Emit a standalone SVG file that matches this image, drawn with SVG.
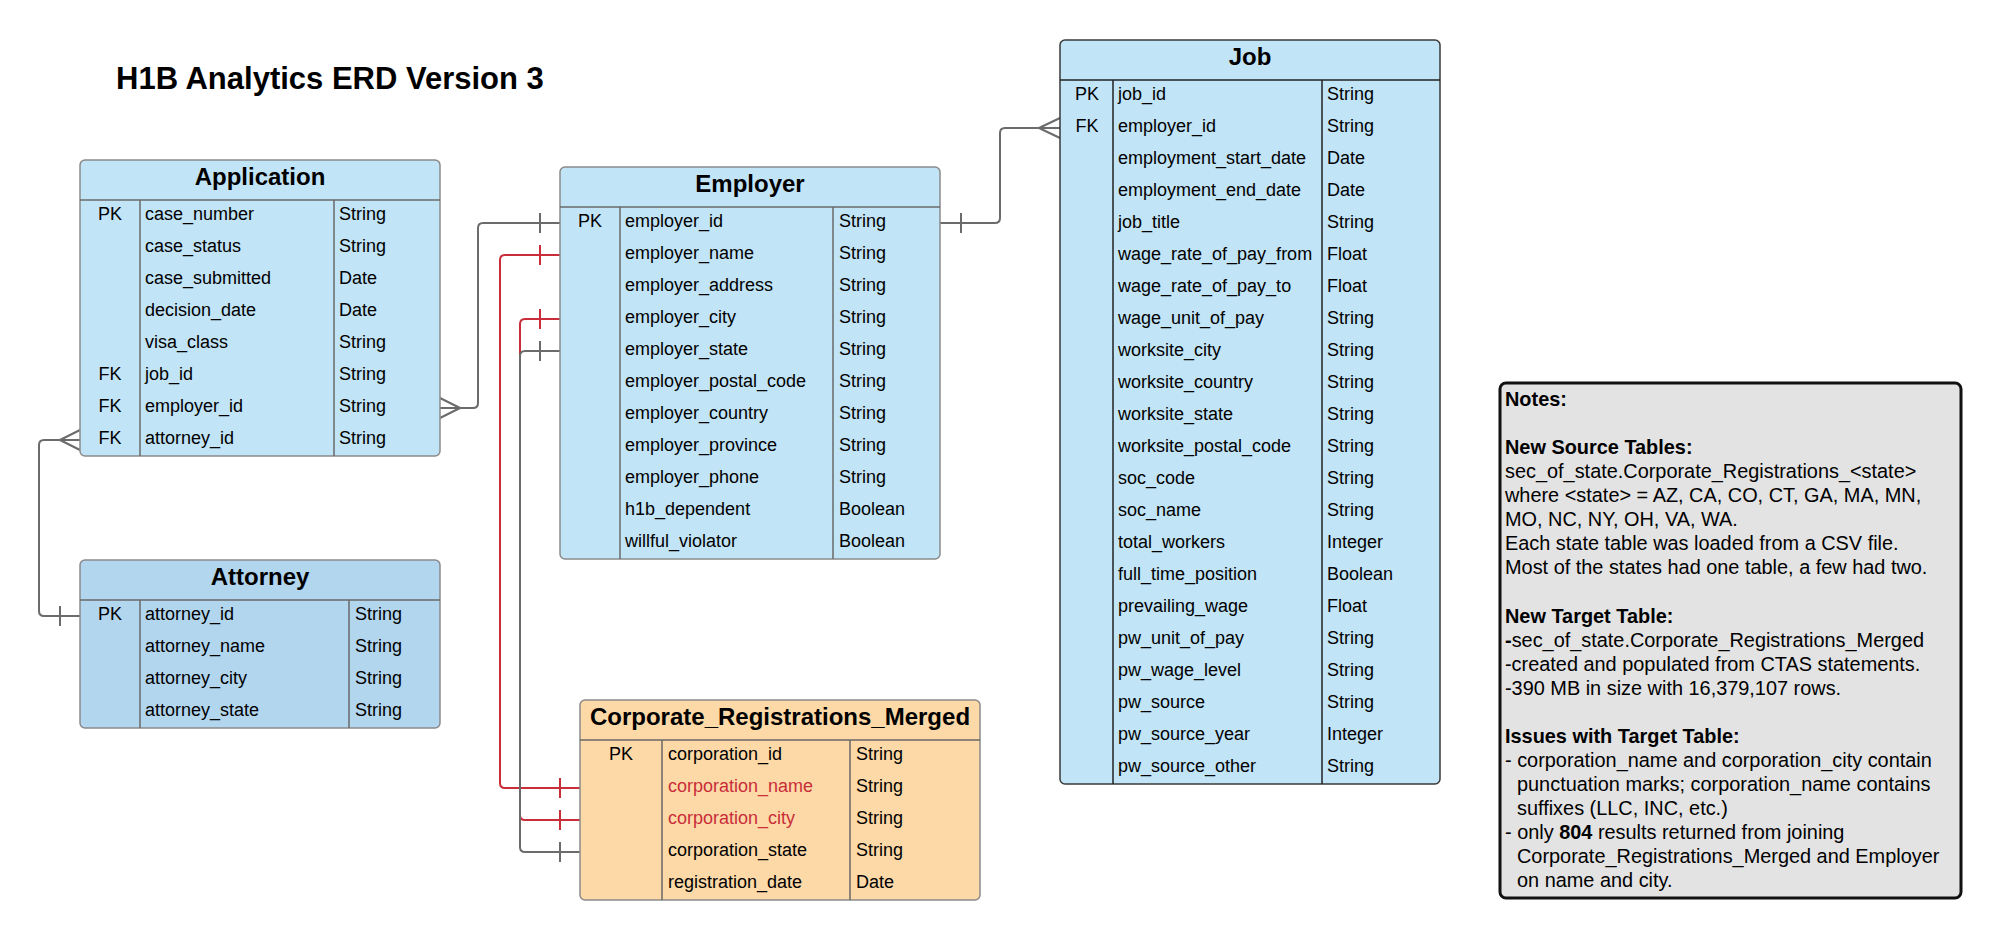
<svg xmlns="http://www.w3.org/2000/svg" width="2001" height="940" viewBox="0 0 2001 940">
<style>
text{font-family:"Liberation Sans",Arial,Helvetica,sans-serif;fill:#000}
.f{font-size:18px}
.k{font-size:18px;text-anchor:middle}
.t{font-size:24px;font-weight:bold;text-anchor:middle}
.red{fill:#c92d39}
.box{stroke:#8a8a8a;stroke-width:1.5}
.blue{fill:#c2e4f7}
.blue2{fill:#b3d6ef}
.orange{fill:#fdd9a7}
.div{stroke:#6a6a6a;stroke-width:1.5;fill:none}
.jdiv{stroke:#222;stroke-width:1.5;fill:none}
.c{fill:none;stroke:#6b6b6b;stroke-width:2;stroke-linejoin:round}
.cr{fill:none;stroke:#c92d39;stroke-width:2;stroke-linejoin:round}
.n{font-size:19.9px}
.nb{font-size:19.9px;font-weight:bold}
</style>

<text x="116" y="89" style="font-size:31px;font-weight:bold">H1B Analytics ERD Version 3</text>

<g id="connectors">
  <!-- Application -> Employer -->
  <path class="c" d="M440,408 H473 Q478,408 478,403 V228 Q478,223 483,223 H560"/>
  <path class="c" d="M440,398 L460,408 L440,418"/>
  <path class="c" d="M540,213 V233"/>
  <!-- Application -> Attorney -->
  <path class="c" d="M80,440 H44 Q39,440 39,445 V611 Q39,616 44,616 H80"/>
  <path class="c" d="M80,430 L60,440 L80,450"/>
  <path class="c" d="M60,606 V626"/>
  <!-- Employer -> Job -->
  <path class="c" d="M940,223 H995 Q1000,223 1000,218 V133 Q1000,128 1005,128 H1060"/>
  <path class="c" d="M1060,118 L1039,128 L1060,138"/>
  <path class="c" d="M961,213 V233"/>
  <!-- Employer name -> corporation_name -->
  <path class="cr" d="M560,255 H505 Q500,255 500,260 V783 Q500,788 505,788 H580"/>
  <path class="cr" d="M540,245 V265 M560,778 V798"/>
  <!-- Employer city -> corporation_city -->
  <path class="cr" d="M560,319 H525 Q520,319 520,324 V815 Q520,820 525,820 H580"/>
  <path class="cr" d="M540,309 V329 M560,810 V830"/>
  <!-- Employer state -> corporation_state -->
  <path class="c" d="M560,351 H525 Q520,351 520,356 V847 Q520,852 525,852 H580"/>
  <path class="c" d="M540,341 V361 M560,842 V862"/>
</g>

<g id="application">
  <rect class="box blue" x="80" y="160" width="360" height="296" rx="5"/>
  <path class="div" d="M80,200 H440 M140,200 V456 M334,200 V456"/>
  <text class="t" x="260" y="185">Application</text>
  <text class="k" x="110" y="220">PK</text>
  <text class="k" x="110" y="380">FK</text>
  <text class="k" x="110" y="412">FK</text>
  <text class="k" x="110" y="444">FK</text>
  <text class="f" x="145" y="220">case_number</text>
  <text class="f" x="145" y="252">case_status</text>
  <text class="f" x="145" y="284">case_submitted</text>
  <text class="f" x="145" y="316">decision_date</text>
  <text class="f" x="145" y="348">visa_class</text>
  <text class="f" x="145" y="380">job_id</text>
  <text class="f" x="145" y="412">employer_id</text>
  <text class="f" x="145" y="444">attorney_id</text>
  <text class="f" x="339" y="220">String</text>
  <text class="f" x="339" y="252">String</text>
  <text class="f" x="339" y="284">Date</text>
  <text class="f" x="339" y="316">Date</text>
  <text class="f" x="339" y="348">String</text>
  <text class="f" x="339" y="380">String</text>
  <text class="f" x="339" y="412">String</text>
  <text class="f" x="339" y="444">String</text>
</g>

<g id="attorney">
  <rect class="box blue2" x="80" y="560" width="360" height="168" rx="5"/>
  <path class="div" d="M80,600 H440 M140,600 V728 M349,600 V728"/>
  <text class="t" x="260" y="585">Attorney</text>
  <text class="k" x="110" y="620">PK</text>
  <text class="f" x="145" y="620">attorney_id</text>
  <text class="f" x="145" y="652">attorney_name</text>
  <text class="f" x="145" y="684">attorney_city</text>
  <text class="f" x="145" y="716">attorney_state</text>
  <text class="f" x="355" y="620">String</text>
  <text class="f" x="355" y="652">String</text>
  <text class="f" x="355" y="684">String</text>
  <text class="f" x="355" y="716">String</text>
</g>

<g id="employer">
  <rect class="box blue" x="560" y="167" width="380" height="392" rx="5"/>
  <path class="div" d="M560,207 H940 M620,207 V559 M833,207 V559"/>
  <text class="t" x="750" y="192">Employer</text>
  <text class="k" x="590" y="227">PK</text>
  <text class="f" x="625" y="227">employer_id</text>
  <text class="f" x="625" y="259">employer_name</text>
  <text class="f" x="625" y="291">employer_address</text>
  <text class="f" x="625" y="323">employer_city</text>
  <text class="f" x="625" y="355">employer_state</text>
  <text class="f" x="625" y="387">employer_postal_code</text>
  <text class="f" x="625" y="419">employer_country</text>
  <text class="f" x="625" y="451">employer_province</text>
  <text class="f" x="625" y="483">employer_phone</text>
  <text class="f" x="625" y="515">h1b_dependent</text>
  <text class="f" x="625" y="547">willful_violator</text>
  <text class="f" x="839" y="227">String</text>
  <text class="f" x="839" y="259">String</text>
  <text class="f" x="839" y="291">String</text>
  <text class="f" x="839" y="323">String</text>
  <text class="f" x="839" y="355">String</text>
  <text class="f" x="839" y="387">String</text>
  <text class="f" x="839" y="419">String</text>
  <text class="f" x="839" y="451">String</text>
  <text class="f" x="839" y="483">String</text>
  <text class="f" x="839" y="515">Boolean</text>
  <text class="f" x="839" y="547">Boolean</text>
</g>

<g id="corporate_registrations_merged">
  <rect class="box orange" x="580" y="700" width="400" height="200" rx="5"/>
  <path class="div" d="M580,740 H980 M662,740 V900 M850,740 V900"/>
  <text class="t" x="780" y="725">Corporate_Registrations_Merged</text>
  <text class="k" x="621" y="760">PK</text>
  <text class="f" x="668" y="760">corporation_id</text>
  <text class="f red" x="668" y="792">corporation_name</text>
  <text class="f red" x="668" y="824">corporation_city</text>
  <text class="f" x="668" y="856">corporation_state</text>
  <text class="f" x="668" y="888">registration_date</text>
  <text class="f" x="856" y="760">String</text>
  <text class="f" x="856" y="792">String</text>
  <text class="f" x="856" y="824">String</text>
  <text class="f" x="856" y="856">String</text>
  <text class="f" x="856" y="888">Date</text>
</g>

<g id="job">
  <rect class="blue" x="1060" y="40" width="380" height="744" rx="5" stroke="#3a3a3a" stroke-width="1.5"/>
  <path class="jdiv" d="M1060,80 H1440 M1113,80 V784 M1322,80 V784"/>
  <text class="t" x="1250" y="65">Job</text>
  <text class="k" x="1087" y="100">PK</text>
  <text class="k" x="1087" y="132">FK</text>
  <text class="f" x="1118" y="100">job_id</text>
  <text class="f" x="1118" y="132">employer_id</text>
  <text class="f" x="1118" y="164">employment_start_date</text>
  <text class="f" x="1118" y="196">employment_end_date</text>
  <text class="f" x="1118" y="228">job_title</text>
  <text class="f" x="1118" y="260">wage_rate_of_pay_from</text>
  <text class="f" x="1118" y="292">wage_rate_of_pay_to</text>
  <text class="f" x="1118" y="324">wage_unit_of_pay</text>
  <text class="f" x="1118" y="356">worksite_city</text>
  <text class="f" x="1118" y="388">worksite_country</text>
  <text class="f" x="1118" y="420">worksite_state</text>
  <text class="f" x="1118" y="452">worksite_postal_code</text>
  <text class="f" x="1118" y="484">soc_code</text>
  <text class="f" x="1118" y="516">soc_name</text>
  <text class="f" x="1118" y="548">total_workers</text>
  <text class="f" x="1118" y="580">full_time_position</text>
  <text class="f" x="1118" y="612">prevailing_wage</text>
  <text class="f" x="1118" y="644">pw_unit_of_pay</text>
  <text class="f" x="1118" y="676">pw_wage_level</text>
  <text class="f" x="1118" y="708">pw_source</text>
  <text class="f" x="1118" y="740">pw_source_year</text>
  <text class="f" x="1118" y="772">pw_source_other</text>
  <text class="f" x="1327" y="100">String</text>
  <text class="f" x="1327" y="132">String</text>
  <text class="f" x="1327" y="164">Date</text>
  <text class="f" x="1327" y="196">Date</text>
  <text class="f" x="1327" y="228">String</text>
  <text class="f" x="1327" y="260">Float</text>
  <text class="f" x="1327" y="292">Float</text>
  <text class="f" x="1327" y="324">String</text>
  <text class="f" x="1327" y="356">String</text>
  <text class="f" x="1327" y="388">String</text>
  <text class="f" x="1327" y="420">String</text>
  <text class="f" x="1327" y="452">String</text>
  <text class="f" x="1327" y="484">String</text>
  <text class="f" x="1327" y="516">String</text>
  <text class="f" x="1327" y="548">Integer</text>
  <text class="f" x="1327" y="580">Boolean</text>
  <text class="f" x="1327" y="612">Float</text>
  <text class="f" x="1327" y="644">String</text>
  <text class="f" x="1327" y="676">String</text>
  <text class="f" x="1327" y="708">String</text>
  <text class="f" x="1327" y="740">Integer</text>
  <text class="f" x="1327" y="772">String</text>
</g>

<g id="notes">
  <rect x="1500" y="383" width="461" height="515" rx="6" fill="#e3e3e3" stroke="#111" stroke-width="3"/>
  <text class="nb" x="1505" y="406">Notes:</text>
  <text class="nb" x="1505" y="454">New Source Tables:</text>
  <text class="n" x="1505" y="478">sec_of_state.Corporate_Registrations_&lt;state&gt;</text>
  <text class="n" x="1505" y="502">where &lt;state&gt; = AZ, CA, CO, CT, GA, MA, MN,</text>
  <text class="n" x="1505" y="526">MO, NC, NY, OH, VA, WA.</text>
  <text class="n" x="1505" y="550">Each state table was loaded from a CSV file.</text>
  <text class="n" x="1505" y="574">Most of the states had one table, a few had two.</text>
  <text class="nb" x="1505" y="622.5">New Target Table:</text>
  <text class="n" x="1505" y="646.5"><tspan font-weight="bold">-</tspan>sec_of_state.Corporate_Registrations_Merged</text>
  <text class="n" x="1505" y="670.5">-created and populated from CTAS statements.</text>
  <text class="n" x="1505" y="694.5">-390 MB in size with 16,379,107 rows.</text>
  <text class="nb" x="1505" y="742.5">Issues with Target Table:</text>
  <text class="n" x="1505" y="766.5">- corporation_name and corporation_city contain</text>
  <text class="n" x="1517" y="790.5">punctuation marks; corporation_name contains</text>
  <text class="n" x="1517" y="814.5">suffixes (LLC, INC, etc.)</text>
  <text class="n" x="1505" y="838.5">- only <tspan font-weight="bold">804</tspan> results returned from joining</text>
  <text class="n" x="1517" y="862.5">Corporate_Registrations_Merged and Employer</text>
  <text class="n" x="1517" y="886.5">on name and city.</text>
</g>
</svg>
